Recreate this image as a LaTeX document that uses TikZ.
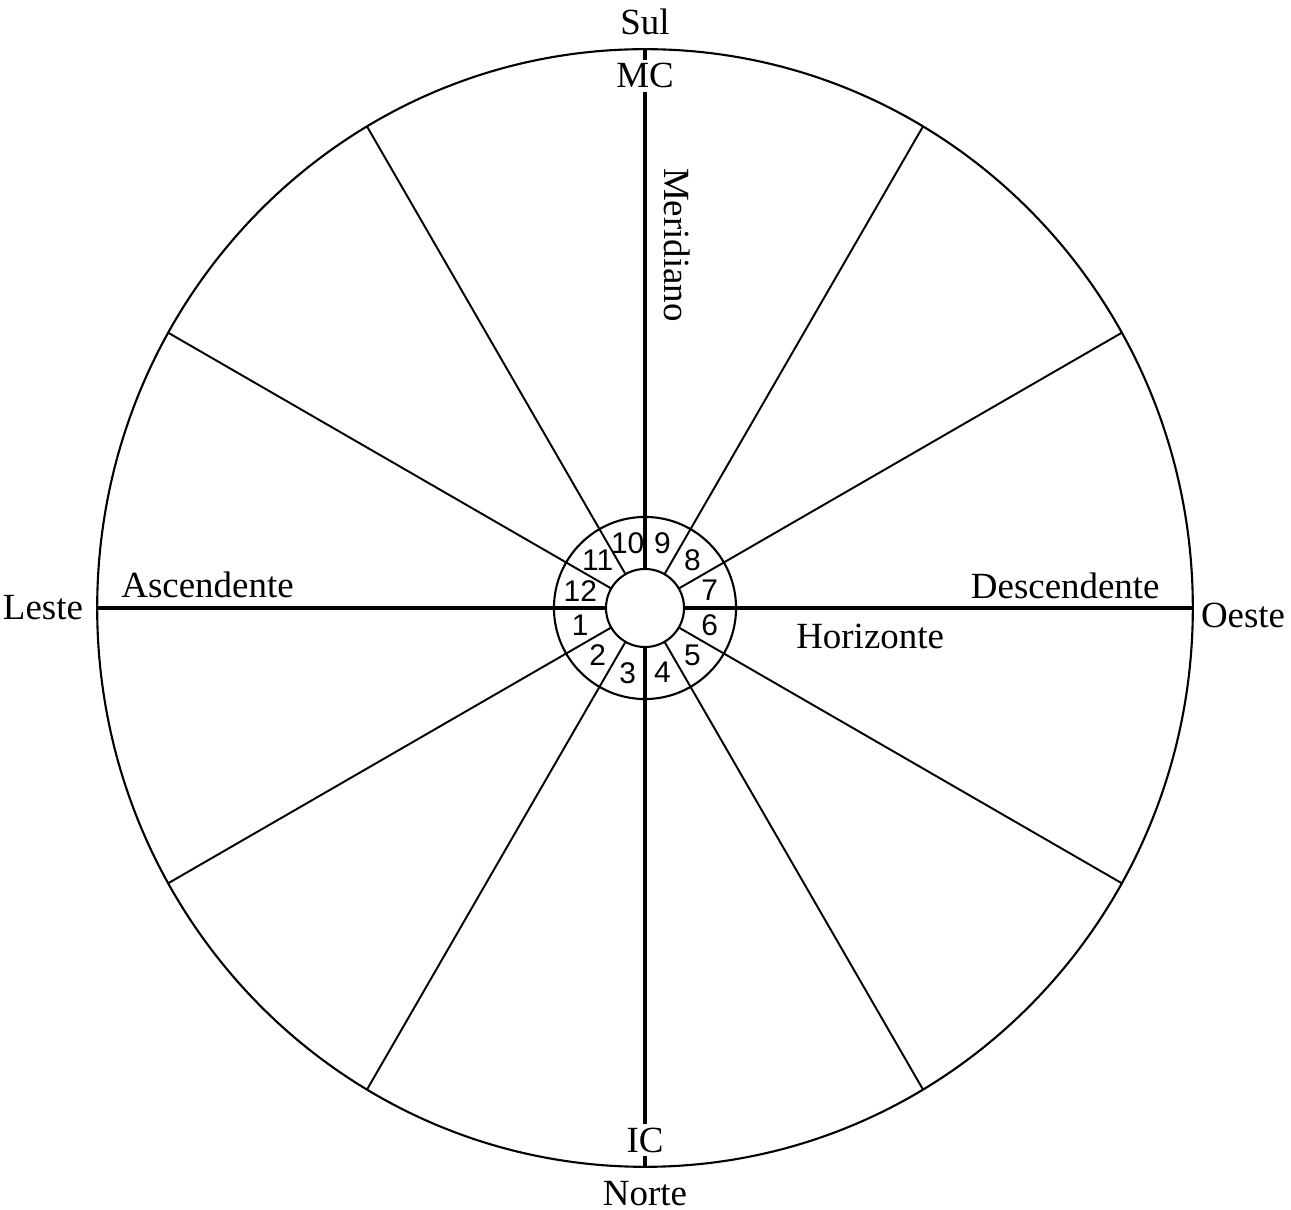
\documentclass[tikz,border=0pt]{standalone}
\usepackage{fontspec}
\setmainfont{Liberation Serif}
\newfontfamily\housefont{Liberation Sans}
\usetikzlibrary{positioning,shapes.geometric}

\begin{document}
\begin{tikzpicture}[
  x=0.01cm,y=0.01cm,
  rim/.style={draw,ellipse,inner sep=0pt,outer sep=0pt,line width=0.6pt},
  hubring/.style={draw,circle,inner sep=0pt,outer sep=0pt,line width=0.6pt},
  cusp/.style={line width=0.55pt},
  axis/.style={line width=1.1pt},
  lbl/.style={font=\fontsize{10.5}{12}\selectfont,inner sep=1pt},
  num/.style={font=\housefont\fontsize{8.5}{9}\selectfont,inner sep=0pt}
]
\useasboundingbox (0,0) rectangle (1291,1209);
\node[rim,minimum width=10.95cm,minimum height=11.17cm] (wheel) at (645,601) {};
\node[hubring,minimum size=1.82cm] (ring) at (645,601) {};
\node[hubring,minimum size=0.78cm] (hub) at (645,601) {};

% house cusps
\foreach \a in {30,60,120,150,210,240,300,330}
  \draw[cusp] (hub.\a) -- (wheel.\a);
% meridian and horizon
\foreach \a in {0,90,180,270}
  \draw[axis] (hub.\a) -- (wheel.\a);

% house numbers
\foreach \n [evaluate=\n as \a using {165+30*\n}] in {1,...,12}
  \node[num] (h\n) at ([shift={(\a:67)}]hub.center) {\n};

\node[lbl,above=1mm of wheel.90] (sul) {Sul};
\node[lbl,fill=white,below=1mm of wheel.90] (mc) {MC};
\node[lbl,above=1mm of wheel.270,fill=white] (ic) {IC};
\node[lbl,below=1mm of wheel.270] (norte) {Norte};
\node[lbl,left=1mm of wheel.180] (leste) {Leste};
\node[lbl,right=0.4mm of wheel.0,yshift=-0.7mm] (oeste) {Oeste};
\node[lbl,above right=0.6mm and 2mm of wheel.180] (asc) {Ascendente};
\node[lbl,above left=0.5mm and 2.9mm of wheel.0] (desc) {Descendente};
\node[lbl,below right=1.2mm and 5.6mm of ring.0] (hor) {Horizonte};
\node[lbl,rotate=-90] (merid) at (677,964) {Meridiano};
\end{tikzpicture}
\end{document}
